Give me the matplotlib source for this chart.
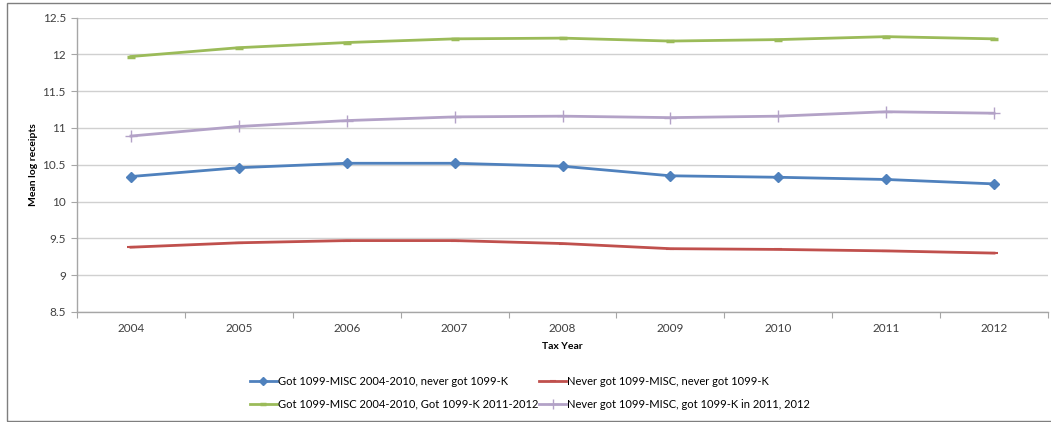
import matplotlib
matplotlib.use("Agg")
import matplotlib.pyplot as plt
from matplotlib.patches import Rectangle
from matplotlib.ticker import FixedLocator, NullFormatter

years = [2004, 2005, 2006, 2007, 2008, 2009, 2010, 2011, 2012]

misc_no_k = [10.34, 10.46, 10.52, 10.52, 10.48, 10.35, 10.33, 10.30, 10.24]
no_misc_no_k = [9.38, 9.44, 9.47, 9.47, 9.43, 9.36, 9.35, 9.33, 9.30]
misc_then_k = [11.97, 12.09, 12.16, 12.21, 12.22, 12.18, 12.20, 12.24, 12.21]
no_misc_then_k = [10.89, 11.02, 11.10, 11.15, 11.16, 11.14, 11.16, 11.22, 11.20]

labels = [
    "Got 1099-MISC 2004-2010, never got 1099-K",
    "Never got 1099-MISC, never got 1099-K",
    "Got 1099-MISC 2004-2010, Got 1099-K 2011-2012",
    "Never got 1099-MISC, got 1099-K in 2011, 2012",
]
y_ticks = [8.5, 9, 9.5, 10, 10.5, 11, 11.5, 12, 12.5]
y_tick_labels = ["8.5", "9", "9.5", "10", "10.5", "11", "11.5", "12", "12.5"]

plt.rcParams["font.family"] = ["Lato", "DejaVu Sans"]

W, H = 1051, 422
fig = plt.figure(figsize=(W / 100, H / 100), dpi=100)
ax = fig.add_axes([77 / W, 1 - 312 / H, (1048 - 77) / W, (312 - 17.5) / H])

# outer chart frame
fig.patches.append(Rectangle((7 / W, 1 / H), 1.2, (H - 4) / H,
                             transform=fig.transFigure, fill=False,
                             edgecolor="#7f7f7f", linewidth=1.0))

lw = 2.0
l_blue, = ax.plot(years, misc_no_k, color="#4F81BD", lw=lw, marker="D",
                  markersize=5.5, label=labels[0], zorder=4)
l_red, = ax.plot(years, no_misc_no_k, color="#C0504D", lw=lw, marker="_",
                 markersize=6, markeredgewidth=1.5, label=labels[1], zorder=4)
l_green, = ax.plot(years, misc_then_k, color="#9BBB59", lw=lw, marker="_",
                   markersize=6, markeredgewidth=2.5, label=labels[2], zorder=4)
l_purple, = ax.plot(years, no_misc_then_k, color="#B3A2C7", lw=lw, marker="+",
                    markersize=9, markeredgewidth=1.0, label=labels[3], zorder=4)

ax.set_xlim(2003.5, 2012.5)
ax.set_ylim(8.5, 12.5)

# category ticks sit between the years, labels centred under each year
ax.xaxis.set_major_locator(FixedLocator([y + 0.5 for y in [2003] + years]))
ax.xaxis.set_major_formatter(NullFormatter())
ax.set_xticks(years, [str(y) for y in years], minor=True)
ax.tick_params(axis="x", which="major", length=4, width=0.8, color="#a6a6a6",
               direction="out")
ax.tick_params(axis="x", which="minor", length=0, pad=8, labelsize=8.5,
               labelcolor="#404040")

ax.set_yticks(y_ticks, y_tick_labels)
ax.tick_params(axis="y", length=4, width=0.8, color="#a6a6a6", labelsize=8.5,
               labelcolor="#404040", pad=4)

ax.grid(axis="y", color="#d0d0d0", linewidth=1.0)
ax.set_axisbelow(True)
for side in ("top", "right"):
    ax.spines[side].set_visible(False)
for side in ("left", "bottom"):
    ax.spines[side].set_color("#a6a6a6")
    ax.spines[side].set_linewidth(1.0)

ax.set_xlabel("Tax Year", fontsize=7.5, fontweight="bold", labelpad=6)
ax.set_ylabel("Mean log receipts", fontsize=7.5, fontweight="bold", labelpad=3)

# two rows: blue | red on top, green | purple below (legend fills by column)
handles = [l_blue, l_green, l_red, l_purple]
fig.legend(handles, [h.get_label() for h in handles], ncol=2, loc="center",
           bbox_to_anchor=(530 / W, 1 - 393 / H), frameon=False,
           fontsize=8.0, handlelength=2.4, handletextpad=0.1,
           columnspacing=0.1, labelspacing=1.05, markerscale=0.8)

fig.savefig("out.png", dpi=100)
